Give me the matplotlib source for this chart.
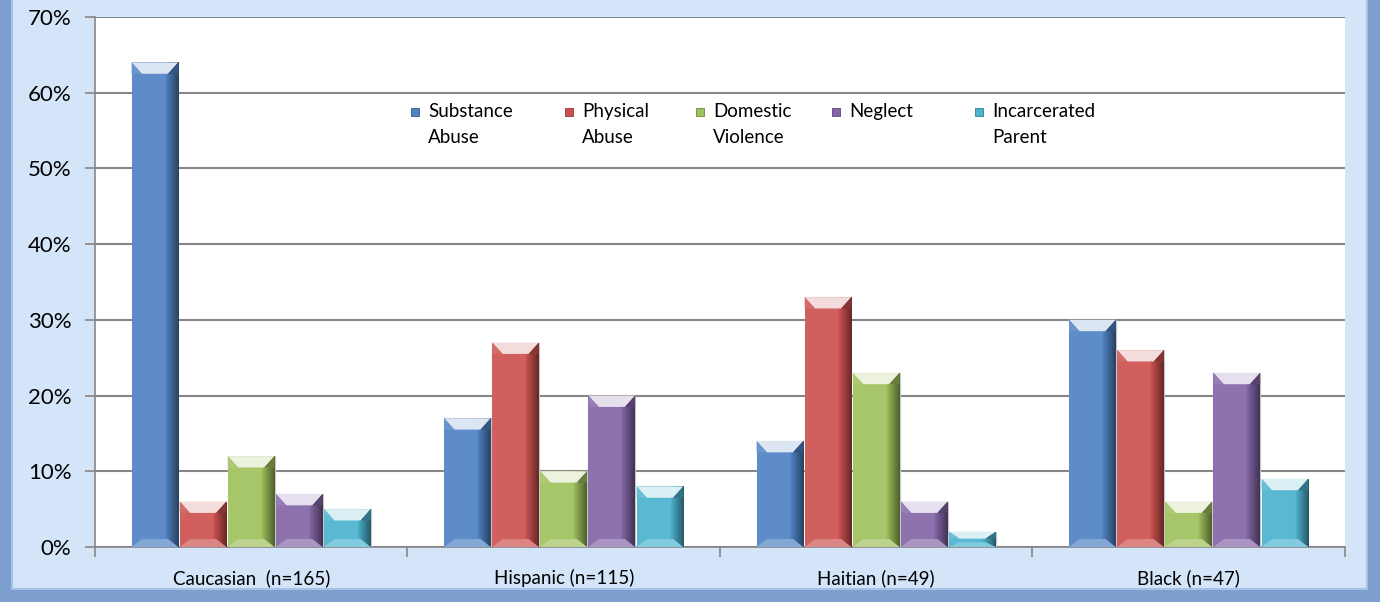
import numpy as np
import matplotlib.pyplot as plt
from matplotlib.patches import Rectangle, Polygon
from matplotlib.colors import to_rgb

plt.rcParams['font.family'] = ['Lato', 'DejaVu Sans']

# data (percent)
groups = ['Caucasian  (n=165)', 'Hispanic (n=115)', 'Haitian (n=49)', 'Black (n=47)']
series = ['Substance\nAbuse', 'Physical\nAbuse', 'Domestic\nViolence', 'Neglect', 'Incarcerated\nParent']
substance = [64, 17, 14, 30]
physical = [6, 27, 33, 26]
domestic = [12, 10, 23, 6]
neglect = [7, 20, 6, 23]
incarcerated = [5, 8, 2, 9]
values = [substance, physical, domestic, neglect, incarcerated]
colors = ['#5083C4', '#CC524F', '#A0C05C', '#8466A8', '#4CB3CF']
yticks = [0, 10, 20, 30, 40, 50, 60, 70]

fig = plt.figure(figsize=(13.8, 6.02), dpi=100)
fig.patch.set_facecolor('#D4E5FA')

# outer bevel frame (left, right, bottom)
for x0, y0, w, h in [(0, 0, 0.009, 1), (0.9905, 0, 0.0095, 1), (0, 0, 1, 0.022)]:
    fig.add_artist(Rectangle((x0, y0), w, h, transform=fig.transFigure,
                             facecolor='#7C9FD0', edgecolor='none', zorder=0))
fig.add_artist(Rectangle((0.009, 0.022), 0.9815, 0.99, transform=fig.transFigure,
                         facecolor='#D4E5FA', edgecolor='#A9C3E6', lw=1.5, zorder=0))

ax = fig.add_axes([0.0688, 0.0914, 0.9058, 0.8804])
ax.set_facecolor('white')

x = np.arange(len(groups))
bw = 0.154
offsets = (np.arange(len(series)) - 2) * bw


def shade(c, f):
    r, g, b = to_rgb(c)
    if f >= 0:
        return (r + (1 - r) * f, g + (1 - g) * f, b + (1 - b) * f)
    return (r * (1 + f), g * (1 + f), b * (1 + f))


for i, (vals, col) in enumerate(zip(values, colors)):
    bars = ax.bar(x + offsets[i], vals, bw * 0.97, color=col, edgecolor='#C8C8C8',
                  linewidth=0.8, zorder=3)
    for b in bars:
        bx, by = b.get_x(), b.get_y()
        w, h = b.get_width(), b.get_height()
        # horizontal gradient: lighter left, darker right
        grad = np.linspace(0, 1, 64)
        cols = np.array([shade(col, 0.08) if g <= 0.72 else shade(col, -0.5 * (g - 0.72) / 0.28)
                         for g in grad])
        img = ax.imshow(cols[np.newaxis, :, :], extent=[bx, bx + w, by, by + h],
                        aspect='auto', zorder=3.5, origin='lower')
        img.set_clip_path(b)
        # top bevel
        bev = min(1.5, h * 0.45)
        inset = w * 0.22
        ax.add_patch(Polygon([(bx, by + h), (bx + w, by + h), (bx + w - inset, by + h - bev),
                              (bx + inset, by + h - bev)], closed=True,
                             facecolor=shade(col, 0.8), edgecolor='none', zorder=4))
        ax.add_patch(Polygon([(bx, by + h), (bx + inset, by + h - bev), (bx, by + h - bev)],
                             closed=True, facecolor=shade(col, 0.15), edgecolor='none', zorder=4))
        ax.add_patch(Polygon([(bx + w, by + h), (bx + w - inset, by + h - bev),
                              (bx + w, by + h - bev)], closed=True,
                             facecolor=shade(col, -0.35), edgecolor='none', zorder=4))
        # bottom bevel
        ax.add_patch(Polygon([(bx, by), (bx + w, by), (bx + w - inset, by + bev * 0.7),
                              (bx + inset, by + bev * 0.7)], closed=True,
                             facecolor=shade(col, 0.3), edgecolor='none', zorder=4))

ax.set_xlim(-0.5, len(groups) - 0.5)
ax.set_ylim(0, 70)
ax.set_yticks(yticks)
ax.set_yticklabels([f'{t}%' for t in yticks], fontsize=16)
ax.set_xticks(x)
ax.set_xticklabels(groups, fontsize=13.5)
ax.tick_params(axis='x', length=0, pad=16)
ax.set_xticks(np.arange(len(groups) + 1) - 0.5, minor=True)
ax.tick_params(axis='x', which='minor', length=7, color='#868686', width=1.2)
ax.tick_params(axis='y', length=7, color='#868686', width=1.2, pad=10)
ax.grid(axis='y', color='#868686', linewidth=1.5, zorder=0)
ax.set_axisbelow(True)
for s in ['top', 'right']:
    ax.spines[s].set_visible(False)
for s in ['left', 'bottom']:
    ax.spines[s].set_color('#868686')
    ax.spines[s].set_linewidth(1.2)

# legend, drawn by hand so the swatch sits on the first line
leg_x = [428, 582, 713, 849, 992]   # text left edge, px
for lx, lab, col in zip(leg_x, series, colors):
    xf = (lx - 95) / 1250
    ax.add_patch(Rectangle((xf - 0.0135, (547 - 116) / 530), 0.0064, 8 / 530,
                           transform=ax.transAxes, facecolor=col, edgecolor=shade(col, -0.3),
                           lw=0.6, zorder=6))
    ax.text(xf, (547 - 103) / 530, lab, transform=ax.transAxes, ha='left', va='top',
            fontsize=13.5, linespacing=1.65, zorder=6)

fig.savefig('out.png', dpi=100, facecolor=fig.get_facecolor())
